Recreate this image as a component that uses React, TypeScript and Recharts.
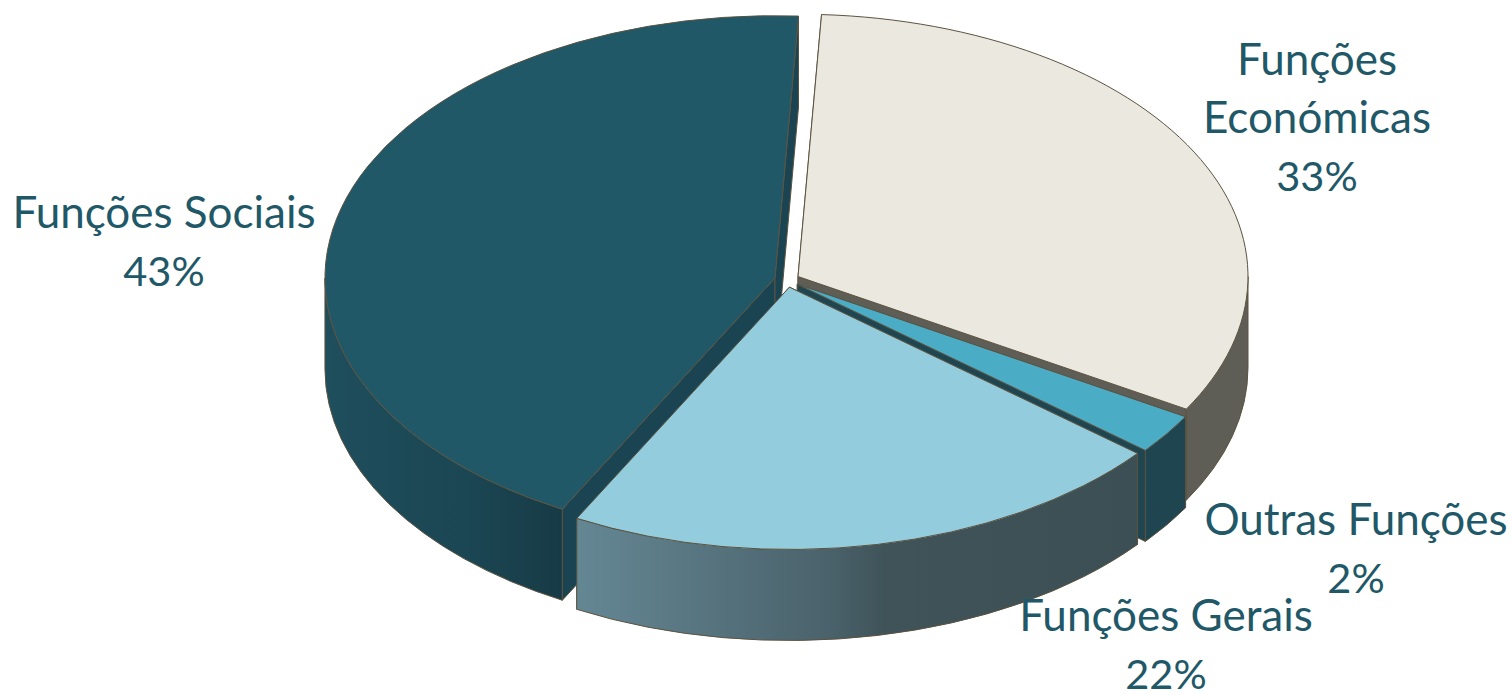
import React from "react";
import { PieChart, Pie } from "recharts";

// clockwise from the top of the pie; labels show them rounded
const names = ["Funções Económicas", "Outras Funções", "Funções Gerais", "Funções Sociais"];
const shares = [32.6, 2.49, 21.91, 43];
const labelLines = [["Funções", "Económicas"], ["Outras Funções"], ["Funções Gerais"], ["Funções Sociais"]];

const topColors = ["#ebe8df", "#4bacc6", "#93cddd", "#215868"];
const wallColors = ["#5f5e56", "#1f4550", "#1c4653", "#1a4452"];
const wallFills = ["#5f5e56", "#1f4550", "url(#wallGerais)", "url(#wallSociais)"];
const labelSpots = [
  { x: 1317, y: 75 },
  { x: 1356, y: 535 },
  { x: 1166, y: 631 },
  { x: 164, y: 228 },
];

const data = names.map((name, i) => ({ name, value: shares[i] }));

const WIDTH = 1512;
const HEIGHT = 695;
const CX = 787;
const CY = 280;
const RADIUS = 450;
const TILT = 0.583; // flattening of the ellipse
const DEPTH = 91;
const EXPLODE = 12.5;
const EDGE = "#5c5340";
const RAD = Math.PI / 180;

// Takes the circular sector recharts computed and flattens it onto the tilted plane
const project = (p: any) => {
  const mid = ((p.startAngle + p.endAngle) / 2) * RAD;
  const ox = p.cx + EXPLODE * Math.cos(mid);
  const oy = p.cy - EXPLODE * TILT * Math.sin(mid);
  const rx = p.outerRadius;
  const ry = rx * TILT;
  const at = (deg: number, drop = 0) => ({
    x: ox + rx * Math.cos(deg * RAD),
    y: oy - ry * Math.sin(deg * RAD) + drop,
  });
  return { ox, oy, rx, ry, at };
};

const TopFace = (p: any) => {
  const { ox, oy, rx, ry, at } = project(p);
  const a = at(p.startAngle);
  const b = at(p.endAngle);
  const large = Math.abs(p.startAngle - p.endAngle) > 180 ? 1 : 0;
  return (
    <path
      d={`M${ox},${oy} L${a.x},${a.y} A${rx},${ry} 0 ${large} 1 ${b.x},${b.y} Z`}
      fill={topColors[p.index]}
      stroke={EDGE}
      strokeWidth={1}
      strokeLinejoin="round"
    />
  );
};

const CutWalls = (p: any) => {
  const { ox, oy, at } = project(p);
  const quad = (deg: number) => {
    const q = at(deg);
    return `M${ox},${oy} L${q.x},${q.y} L${q.x},${q.y + DEPTH} L${ox},${oy + DEPTH} Z`;
  };
  return (
    <g stroke={EDGE} strokeWidth={1} strokeLinejoin="round" fill={wallColors[p.index]}>
      <path d={quad(p.startAngle)} />
      <path d={quad(p.endAngle)} />
    </g>
  );
};

const RimWall = (p: any) => {
  const { rx, ry, at } = project(p);
  // only the front half of the rim can be seen
  const a = at(Math.min(p.startAngle, 0));
  const b = at(Math.max(p.endAngle, -180));
  return (
    <path
      d={`M${a.x},${a.y} A${rx},${ry} 0 0 1 ${b.x},${b.y} L${b.x},${b.y + DEPTH} A${rx},${ry} 0 0 0 ${a.x},${a.y + DEPTH} Z`}
      fill={wallFills[p.index]}
      stroke={EDGE}
      strokeWidth={1}
      strokeLinejoin="round"
    />
  );
};

const renderLabel = (p: any) => {
  const spot = labelSpots[p.index];
  const words = labelLines[p.index];
  const lines = [...words, `${Math.round(p.value)}%`];
  return (
    <text
      key={p.name}
      x={spot.x}
      y={spot.y}
      textAnchor="middle"
      fontFamily="Lato, sans-serif"
      fontSize={44}
      fill="#215868"
    >
      {lines.map((line, i) => (
        <tspan key={line} x={spot.x} dy={i === 0 ? 0 : 58} fontSize={i === words.length ? 41.5 : 44}>
          {line}
        </tspan>
      ))}
    </text>
  );
};

const pieProps = {
  data,
  dataKey: "value",
  nameKey: "name",
  cx: CX,
  cy: CY,
  innerRadius: 0,
  outerRadius: RADIUS,
  startAngle: 87,
  endAngle: -273,
  paddingAngle: 0,
  isAnimationActive: false,
};

export default function App() {
  return (
    <div style={{ position: "absolute", left: 0, top: 0, width: WIDTH, height: HEIGHT, overflow: "hidden" }}>
      <PieChart width={WIDTH} height={HEIGHT} margin={{ top: 0, right: 0, bottom: 0, left: 0 }}>
        <defs>
          <linearGradient id="wallGerais" x1="0" y1="0" x2="1" y2="0">
            <stop offset="0" stopColor="#648794" />
            <stop offset="0.45" stopColor="#4a626b" />
            <stop offset="0.55" stopColor="#3f5359" />
            <stop offset="1" stopColor="#3c4f55" />
          </linearGradient>
          <linearGradient id="wallSociais" x1="0" y1="0" x2="1" y2="0">
            <stop offset="0" stopColor="#1f4e5c" />
            <stop offset="0.6" stopColor="#1b4653" />
            <stop offset="1" stopColor="#173b46" />
          </linearGradient>
        </defs>
        <Pie {...pieProps} shape={CutWalls} />
        <Pie {...pieProps} shape={RimWall} />
        <Pie {...pieProps} shape={TopFace} label={renderLabel} labelLine={false} />
      </PieChart>
    </div>
  );
}
